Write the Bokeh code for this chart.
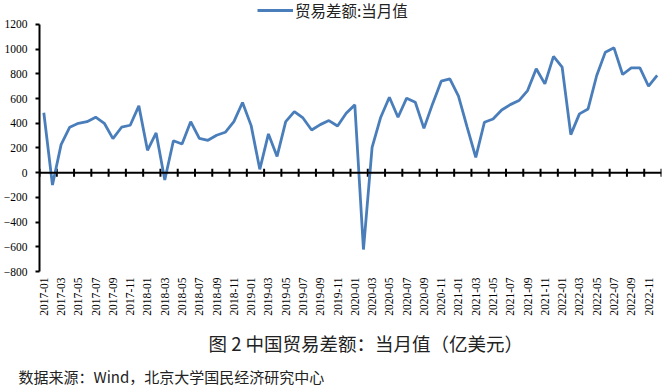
import math
from bokeh.plotting import figure
from bokeh.models import Legend, LegendItem, Title, FixedTicker, Span
from bokeh.embed import file_html
from bokeh.resources import INLINE

# ---- data -------------------------------------------------------------
years = [2017, 2018, 2019, 2020, 2021, 2022]
months = [f"{y}-{m:02d}" for y in years for m in range(1, 13)]

trade_balance = [
    485, -100, 227, 368, 400, 413, 449, 400, 276, 368, 384, 541,   # 2017
    181, 322, -59, 259, 232, 413, 278, 262, 303, 327, 413, 568,     # 2018
    381, 27, 314, 132, 413, 495, 443, 346, 389, 422, 378, 481,      # 2019
    549, -622, 205, 449, 611, 449, 603, 570, 359, 557, 741, 760,    # 2020
    619, 368, 124, 408, 435, 508, 551, 584, 665, 841, 719, 941,     # 2021
    854, 308, 476, 516, 787, 976, 1011, 795, 849, 849, 700, 787,    # 2022
]
y_ticks = [-800, -600, -400, -200, 0, 200, 400, 600, 800, 1000, 1200]
series_name = "贸易差额:当月值"
caption = "图 2 中国贸易差额：当月值（亿美元）"
source_note = "数据来源：Wind，北京大学国民经济研究中心"

x_idx = list(range(len(months)))
label_idx = x_idx[::2]
tick_marks = [i - 0.5 for i in range(0, len(months) + 1, 2)]

LINE_COLOR = "#4A7EBB"
SERIF = "Liberation Serif"
CJK = "Noto Sans CJK SC"

# frame reaches the top edge; headroom above 1200 holds the legend
p = figure(width=665, height=385,
           x_range=(-0.5, len(months) - 0.5), y_range=(-800, 1394),
           output_backend="svg", toolbar_location=None,
           min_border_left=39, min_border_right=4,
           min_border_top=0, min_border_bottom=114)
p.outline_line_color = None
p.xgrid.grid_line_color = None
p.ygrid.grid_line_color = None
p.background_fill_color = "white"
p.border_fill_color = "white"

# y axis
p.yaxis.ticker = FixedTicker(ticks=y_ticks)
p.yaxis.bounds = (y_ticks[0], y_ticks[-1])
p.yaxis.axis_line_color = "black"
p.yaxis.axis_line_width = 2
p.yaxis.major_tick_line_color = "black"
p.yaxis.major_tick_line_width = 2
p.yaxis.major_tick_out = 4
p.yaxis.major_tick_in = 0
p.yaxis.minor_tick_line_color = None
p.yaxis.major_label_standoff = 8
p.yaxis.major_label_text_font = SERIF
p.yaxis.major_label_text_font_size = "11.5px"
p.yaxis.major_label_text_color = "black"

# x axis (labels only, at bottom)
p.xaxis.ticker = FixedTicker(ticks=label_idx)
p.xaxis.major_label_overrides = {i: months[i] for i in label_idx}
p.xaxis.axis_line_color = None
p.xaxis.major_tick_line_color = None
p.xaxis.major_tick_out = 0
p.xaxis.major_tick_in = 0
p.xaxis.minor_tick_line_color = None
p.xaxis.major_label_orientation = math.pi / 2
p.xaxis.major_label_standoff = 6
p.xaxis.major_label_text_font = SERIF
p.xaxis.major_label_text_font_size = "11.5px"
p.xaxis.major_label_text_color = "black"

# zero line with category tick marks
p.add_layout(Span(location=0, dimension="width", line_color="black", line_width=2))
p.scatter(x=tick_marks, y=[0] * len(tick_marks), marker="dash", angle=math.pi / 2,
          size=8, line_color="black", line_width=2)

r = p.line(x_idx, trade_balance, line_color=LINE_COLOR, line_width=2.8)

legend = Legend(items=[LegendItem(label=series_name, renderers=[r])],
                location=(218, 250), orientation="horizontal",
                border_line_color=None, background_fill_alpha=0,
                label_text_font=CJK, label_text_font_size="15.5px",
                label_text_color="#222222",
                glyph_width=36, glyph_height=16, label_standoff=2,
                padding=0, margin=0, spacing=0, label_height=18)
p.add_layout(legend)

p.add_layout(Title(text=caption, align="left", offset=169,
                   text_font=CJK, text_font_size="18.5px", text_font_style="normal",
                   text_color="#222222", standoff=18), "below")
p.add_layout(Title(text=source_note, align="left", offset=-21,
                   text_font=CJK, text_font_size="15px", text_font_style="normal",
                   text_color="#222222", standoff=-2), "below")

open("out.html", "w").write(file_html(p, INLINE))
